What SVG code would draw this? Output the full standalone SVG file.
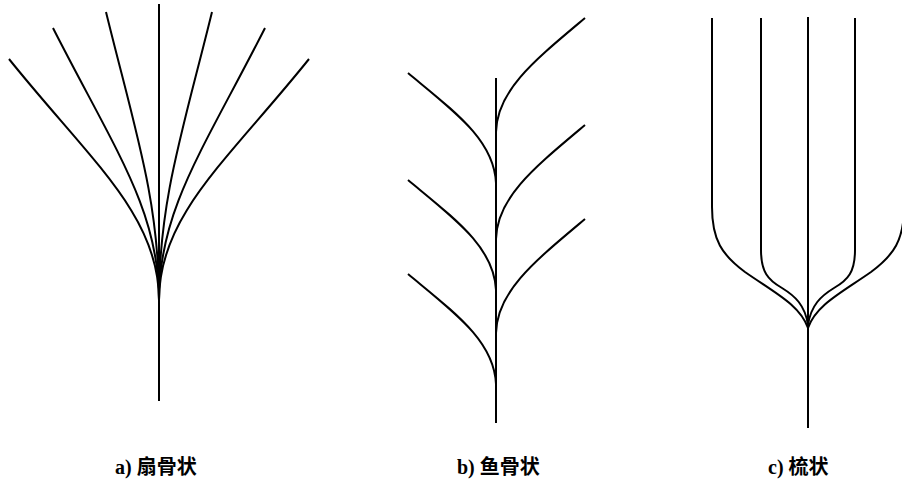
<svg xmlns="http://www.w3.org/2000/svg" width="902" height="484" viewBox="0 0 902 484">
<style>
.ln{fill:none;stroke:#000;stroke-width:2;stroke-linecap:butt}
.lb{font-family:"Liberation Serif","Noto Sans CJK SC",serif;font-weight:bold;font-size:20px;fill:#000}
</style>
<rect width="902" height="484" fill="#fff"/>
<g id="fan">
<path class="ln" d="M159,4 V401"/>
<path class="ln" d="M9,59 C90,160 159,215 159,300"/>
<path class="ln" d="M53,28 C115,150 159,210 159,300"/>
<path class="ln" d="M106,12 C135,130 159,200 159,300"/>
<path class="ln" d="M309,59 C228,160 159,215 159,300"/>
<path class="ln" d="M265,28 C203,150 159,210 159,300"/>
<path class="ln" d="M212,12 C183,130 159,200 159,300"/>
</g>
<g id="fishbone">
<path class="ln" d="M496,78 V423"/>
<path class="ln" d="M408,73 C455,112 494,140 496,183"/>
<path class="ln" d="M408,180 C455,219 494,247 496,290"/>
<path class="ln" d="M408,274 C455,313 494,341 496,384"/>
<path class="ln" d="M585,18 C535,60 497,90 496,132"/>
<path class="ln" d="M585,125 C535,167 497,197 496,239"/>
<path class="ln" d="M585,219 C535,261 497,291 496,333"/>
</g>
<g id="comb">
<path class="ln" d="M808,17 V428"/>
<path class="ln" d="M712,18 V207 C712,240 722,255 745,272 C775,293 800,305 808,328"/>
<path class="ln" d="M761,18 V250 C761,272 768,280 782,288 C795,296 805,305 808,325"/>
<path class="ln" d="M904,18 V207 C904,240 894,255 871,272 C841,293 816,305 808,328"/>
<path class="ln" d="M855,18 V250 C855,272 848,280 834,288 C821,296 811,305 808,325"/>
</g>
<g id="labels">
<text class="lb" x="115" y="474">a) 扇骨状</text>
<text class="lb" x="457" y="474">b) 鱼骨状</text>
<text class="lb" x="768" y="474">c) 梳状</text>
</g>
</svg>
